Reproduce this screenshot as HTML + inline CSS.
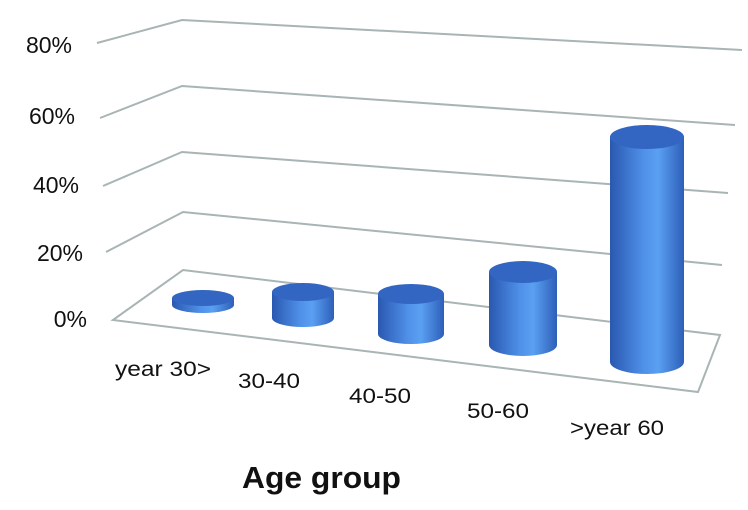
<!DOCTYPE html>
<html><head><style>
html,body{margin:0;padding:0;background:#fff;}
svg{display:block;}
text{font-family:"Liberation Sans",sans-serif;fill:#111;}
</style></head><body>
<svg width="748" height="510" viewBox="0 0 748 510" xmlns="http://www.w3.org/2000/svg">
<defs>
<linearGradient id="side" x1="0" x2="1" y1="0" y2="0">
<stop offset="0" stop-color="#2a58b0"/>
<stop offset="0.45" stop-color="#4f90e8"/>
<stop offset="0.65" stop-color="#5aa0f2"/>
<stop offset="1" stop-color="#2e5fb8"/>
</linearGradient>
</defs>
<g fill="none" stroke="#a9b4b4" stroke-width="2">
<polyline points="97,43 182,20 742,50"/>
<polyline points="100,118 182,86 735,125"/>
<polyline points="103,186 182,152 728,193"/>
<polyline points="106,252 183,212 722,265"/>
<polygon points="113,320 183,270 720,335 698,392"/>
</g>
<g font-size="23" text-anchor="end">
<text x="72" y="53">80%</text>
<text x="75" y="124">60%</text>
<text x="79" y="193">40%</text>
<text x="83" y="261">20%</text>
<text x="87" y="327">0%</text>
</g>
<g>
<path d="M172,298 L172,305 A31,8 0 0 0 234,305 L234,298 Z" fill="url(#side)"/>
<ellipse cx="203" cy="298" rx="31" ry="8" fill="#3266c2"/>
<path d="M272,292 L272,318 A31,9 0 0 0 334,318 L334,292 Z" fill="url(#side)"/>
<ellipse cx="303" cy="292" rx="31" ry="9" fill="#3266c2"/>
<path d="M378,294 L378,334 A33,10 0 0 0 444,334 L444,294 Z" fill="url(#side)"/>
<ellipse cx="411" cy="294" rx="33" ry="10" fill="#3266c2"/>
<path d="M489,272 L489,345 A34,11 0 0 0 557,345 L557,272 Z" fill="url(#side)"/>
<ellipse cx="523" cy="272" rx="34" ry="11" fill="#3266c2"/>
<path d="M610,137 L610,362 A37,12 0 0 0 684,362 L684,137 Z" fill="url(#side)"/>
<ellipse cx="647" cy="137" rx="37" ry="12" fill="#3266c2"/>
</g>
<g font-size="21">
<text x="115" y="376" textLength="96" lengthAdjust="spacingAndGlyphs">year 30&gt;</text>
<text x="238" y="388" textLength="62" lengthAdjust="spacingAndGlyphs">30-40</text>
<text x="349" y="403" textLength="62" lengthAdjust="spacingAndGlyphs">40-50</text>
<text x="467" y="418" textLength="62" lengthAdjust="spacingAndGlyphs">50-60</text>
<text x="570" y="435" textLength="94" lengthAdjust="spacingAndGlyphs">&gt;year 60</text>
</g>
<text x="242" y="488" font-size="31" font-weight="bold" textLength="159" lengthAdjust="spacingAndGlyphs">Age group</text>
</svg>
</body></html>
